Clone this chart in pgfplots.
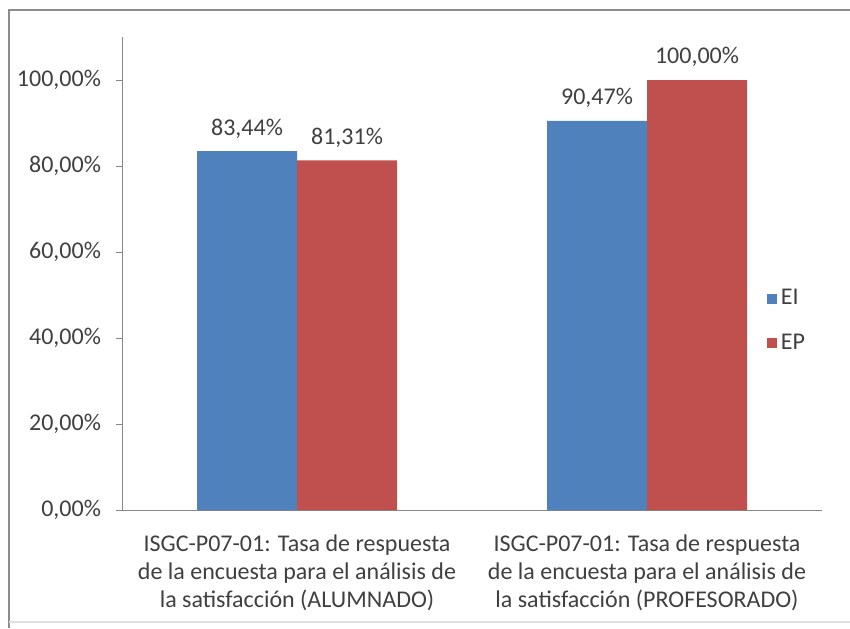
\documentclass[border=0pt]{standalone}
\usepackage{fontspec}
\setmainfont{Carlito}
\usepackage{pgfplots}
\pgfplotsset{compat=1.18}
\definecolor{eiblue}{HTML}{4F81BD}
\definecolor{epred}{HTML}{C0504D}
\definecolor{axgray}{HTML}{868686}
\definecolor{txt}{HTML}{404040}
\definecolor{framec}{HTML}{8C8C8C}
\begin{document}
\begin{tikzpicture}
\useasboundingbox (0,0) rectangle (425pt,314pt);
\fill[white] (0,0) rectangle (425pt,314pt);
\draw[framec, line width=1.2pt] (4.5pt,0) -- (4.5pt,309pt) -- (425pt,309pt);
\draw[black!12, line width=0.8pt] (4.5pt,3pt) -- (425pt,3pt);
\begin{axis}[
  at={(61pt,59pt)}, anchor=south west,
  scale only axis, width=350pt, height=236.5pt,
  xmin=-0.5, xmax=1.5, ymin=0, ymax=110,
  ybar=0pt, bar width=50pt,
  axis x line=bottom, axis y line=left,
  axis line style={axgray, -},
  tick style={axgray, line width=0.5pt},
  tick align=outside,
  major tick length=3pt,
  ytick={0,20,40,60,80,100},
  yticklabel={\pgfmathprintnumber[fixed,fixed zerofill,precision=2,use comma,assume math mode=true]{\tick}\%},
  xtick={0,1},
  x tick style={draw=none},
  extra x ticks={-0.5,0.5,1.5},
  extra x tick labels={},
  extra x tick style={tick style={axgray, line width=0.5pt}, major tick length=3pt},
  xticklabels={{ISGC-P07-01: Tasa de respuesta\\de la encuesta para el análisis de\\la satisfacción (ALUMNADO)},{ISGC-P07-01: Tasa de respuesta\\de la encuesta para el análisis de\\la satisfacción (PROFESORADO)}},
  xticklabel style={align=center, font=\fontsize{12}{14}\selectfont, text=txt, yshift=-6pt},
  yticklabel style={font=\fontsize{12}{14}\selectfont, text=txt, xshift=-4pt},
  nodes near coords={\pgfmathprintnumber[fixed,fixed zerofill,precision=2,use comma,assume math mode=true]{\pgfplotspointmeta}\%},
  nodes near coords style={font=\fontsize{12}{14}\selectfont, text=txt, yshift=3pt},
  legend style={draw=none, fill=none, at={(0.912,0.4)}, anchor=west, font=\fontsize{12}{14}\selectfont, text=txt, row sep=9pt, legend cell align=left},
  legend image code/.code={\fill[#1] (0pt,-2.5pt) rectangle (5pt,2.5pt);},
  clip=false,
]
\addplot[fill=eiblue, draw=none] coordinates {(0,83.44) (1,90.47)};
\addplot[fill=epred, draw=none] coordinates {(0,81.31) (1,100.00)};
\legend{EI,EP}
\end{axis}
\end{tikzpicture}
\end{document}
